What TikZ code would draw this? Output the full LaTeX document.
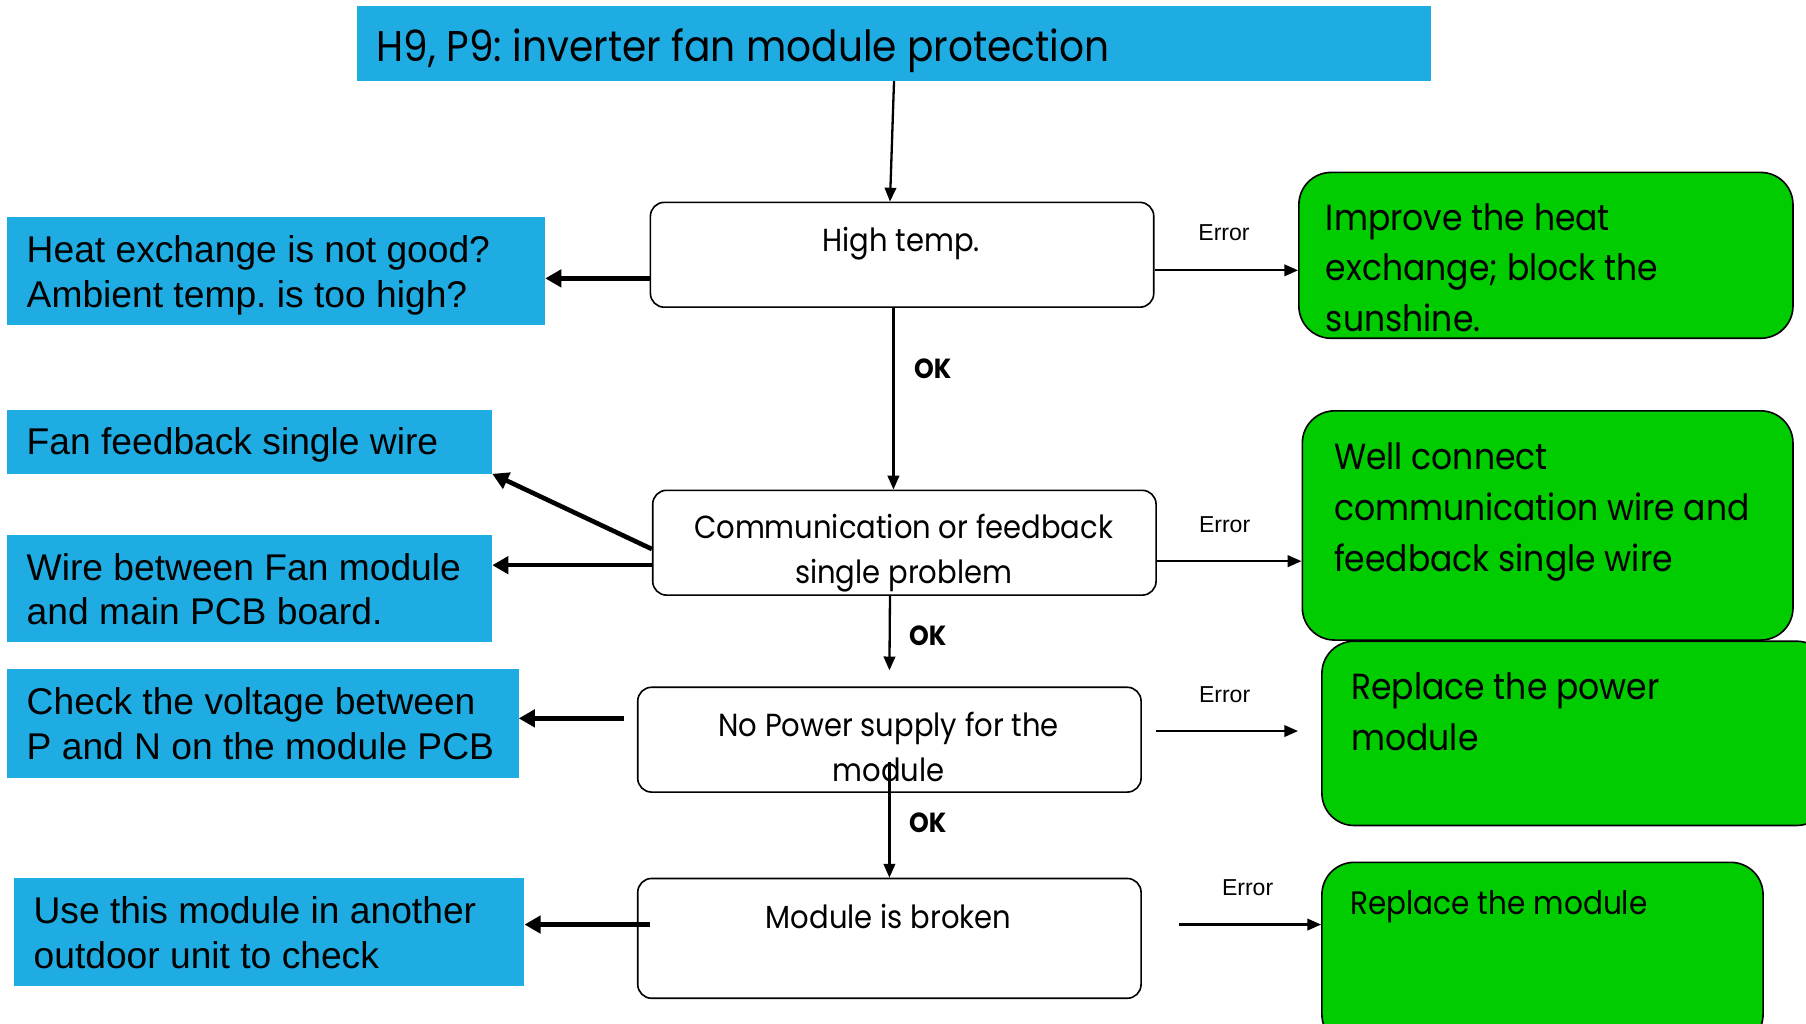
\documentclass[tikz,border=0pt]{standalone}
\usepackage{fontspec}
\setmainfont{Liberation Sans}
\newfontfamily\fut[FakeStretch=0.91]{Poppins}
\usetikzlibrary{arrows.meta,calc}
\definecolor{blueC}{RGB}{30,172,226}
\definecolor{greenC}{RGB}{0,204,0}
\frenchspacing
\begin{document}
\begin{tikzpicture}[x=1pt,y=-1pt,
  bbox/.style={fill=blueC, draw=none, inner sep=0pt, anchor=north west},
  mbox/.style={draw=black, line width=1.4pt, rounded corners=12pt, fill=white, inner sep=0pt, anchor=north west},
  gbox/.style={draw=black, line width=1.4pt, rounded corners=28pt, fill=greenC, inner sep=0pt, anchor=north west},
  btext/.style={inner sep=0pt, anchor=base west, font=\fontsize{32.3}{39}\selectfont},
  mtext/.style={inner sep=0pt, anchor=base, font=\fut\fontsize{27.7}{39}\selectfont},
  gtext/.style={inner sep=0pt, anchor=base west, font=\fut\fontsize{31.5}{44}\selectfont},
  thinarrow/.style={line width=2pt, -{Triangle[length=12pt,width=10pt]}},
  thickarrow/.style={line width=4pt, -{Triangle[length=14pt,width=15pt]}},
  oklabel/.style={inner sep=0pt, anchor=base west, font=\fut\bfseries\fontsize{24}{24}\selectfont},
  errlabel/.style={inner sep=0pt, anchor=base, font=\fontsize{20}{20}\selectfont},
]
\useasboundingbox (0,0) rectangle (1568,889);
\clip (0,0) rectangle (1568,889);
\fill[white] (0,0) rectangle (1568,889);

% title
\node[bbox, minimum width=932pt, minimum height=65pt] (title) at (310,5) {};
\node[inner sep=0pt, anchor=base west, font=\fut\fontsize{37.3}{38}\selectfont] (titleT) at (327,53.5) {H9, P9: inverter fan module protection};

% left blue boxes
\node[bbox, minimum width=467pt, minimum height=94pt] (heat) at (6,188) {};
\node[btext] (heatT) at (23,228) {\parbox[t]{440pt}{Heat exchange is not good?\\Ambient temp. is too high?}};
\node[bbox, minimum width=421pt, minimum height=55pt] (ff) at (6,356) {};
\node[btext] (ffT) at (23,395) {Fan feedback single wire};
\node[bbox, minimum width=421pt, minimum height=93pt] (wire) at (6,464) {};
\node[btext] (wireT) at (23,503.6) {\parbox[t]{400pt}{Wire between Fan module\\and main PCB board.}};
\node[bbox, minimum width=444pt, minimum height=94pt] (check) at (6,581) {};
\node[btext] (checkT) at (23,620) {\parbox[t]{430pt}{Check the voltage between\\P and N on the module PCB}};
\node[bbox, minimum width=443pt, minimum height=94pt] (use) at (12,762) {};
\node[btext] (useT) at (29,802) {\parbox[t]{430pt}{Use this module in another\\outdoor unit to check}};

% middle boxes
\node[mbox, minimum width=437pt, minimum height=91pt] (ht) at (564,175) {};
\node[mtext] (htT) at (782.5,218.5) {High temp.};
\node[mbox, minimum width=437pt, minimum height=91pt] (comm) at (566,425) {};
\node[mtext] (commT) at (784.5,467.4) {\parbox[t]{437pt}{\centering Communication or feedback\\single problem}};
\node[mbox, minimum width=437pt, minimum height=91pt] (np) at (553,596) {};
\node[mtext] (npT) at (771.5,639.6) {\parbox[t]{437pt}{\centering No Power supply for the\\module}};
\node[mbox, minimum width=437pt, minimum height=104pt] (mb) at (553,762) {};
\node[mtext] (mbT) at (771.5,806) {Module is broken};

% green boxes
\node[gbox, minimum width=429pt, minimum height=144pt] (imp) at (1127,149) {};
\node[gtext] (impT) at (1151,199.7) {\parbox[t]{400pt}{Improve the heat\\exchange; block the\\sunshine.}};
\node[gbox, minimum width=426pt, minimum height=199pt] (wc) at (1130,356) {};
\node[gtext] (wcT) at (1158,408) {\parbox[t]{400pt}{Well connect\\communication wire and\\feedback single wire}};
\node[gbox, minimum width=440pt, minimum height=160pt] (rp) at (1147,556) {};
\node[gtext] (rpT) at (1173,607.7) {\parbox[t]{400pt}{Replace the power\\module}};
\node[gbox, minimum width=383pt, minimum height=160pt] (rm) at (1147,748) {};
\node[gtext, font=\fut\fontsize{28.2}{44}\selectfont] (rmT) at (1172,794.4) {Replace the module};

% vertical flow
\draw[thinarrow] (title.south) -- ([xshift=-10.5pt]ht.north);
\draw[thinarrow] ([xshift=-7.5pt]ht.south) -- ([xshift=-9.5pt]comm.north)
  node[oklabel, pos=0.39, xshift=17pt] (ok1) {OK};
\draw[thinarrow] ([xshift=-12.5pt]comm.south) -- ([yshift=14pt]np.north)
  node[oklabel, pos=0.667, xshift=16pt] (ok2) {OK};
\draw[thinarrow] ([yshift=27pt]np.south) -- (mb.north)
  node[oklabel, pos=0.61, xshift=16pt] (ok3) {OK};

% error arrows
\coordinate (ht-e) at ([yshift=-13.5pt]ht.east);
\draw[thinarrow] (ht-e) -- (ht-e -| imp.west)
  node[errlabel, midway, yshift=26pt, xshift=-2pt] (err1) {Error};
\coordinate (comm-e) at ([yshift=-16pt]comm.east);
\draw[thinarrow] (comm-e) -- (comm-e -| wc.west)
  node[errlabel, midway, yshift=25pt, xshift=-4pt] (err2) {Error};
\coordinate (np-e) at ([xshift=12pt,yshift=7.5pt]np.east);
\coordinate (rp-in) at ($(np-e -| rp.west)+(-20,0)$);
\draw[thinarrow] (np-e) -- (rp-in)
  node[errlabel, midway, yshift=25pt, xshift=-2pt] (err3) {Error};
\coordinate (mb-e) at ([xshift=32pt,yshift=12pt]mb.east);
\draw[thinarrow] (mb-e) -- (mb-e -| rm.west)
  node[errlabel, midway, yshift=25pt, xshift=-2pt] (err4) {Error};

% left arrows
\coordinate (ht-w) at ([yshift=-20.5pt]ht.west);
\draw[thickarrow] (ht-w) -- (ht-w -| heat.east);
\draw[thickarrow] ([yshift=-5.5pt]comm.west) -- (ff.south east);
\coordinate (comm-w) at ([yshift=-19.5pt]comm.west);
\draw[thickarrow] (comm-w) -- (comm-w -| wire.east);
\coordinate (np-w) at ([xshift=-11pt,yshift=18.5pt]np.west);
\draw[thickarrow] (np-w) -- (np-w -| check.east);
\coordinate (mb-w) at ([xshift=11pt,yshift=12pt]mb.west);
\draw[thickarrow] (mb-w) -- (mb-w -| use.east);
\end{tikzpicture}
\end{document}
